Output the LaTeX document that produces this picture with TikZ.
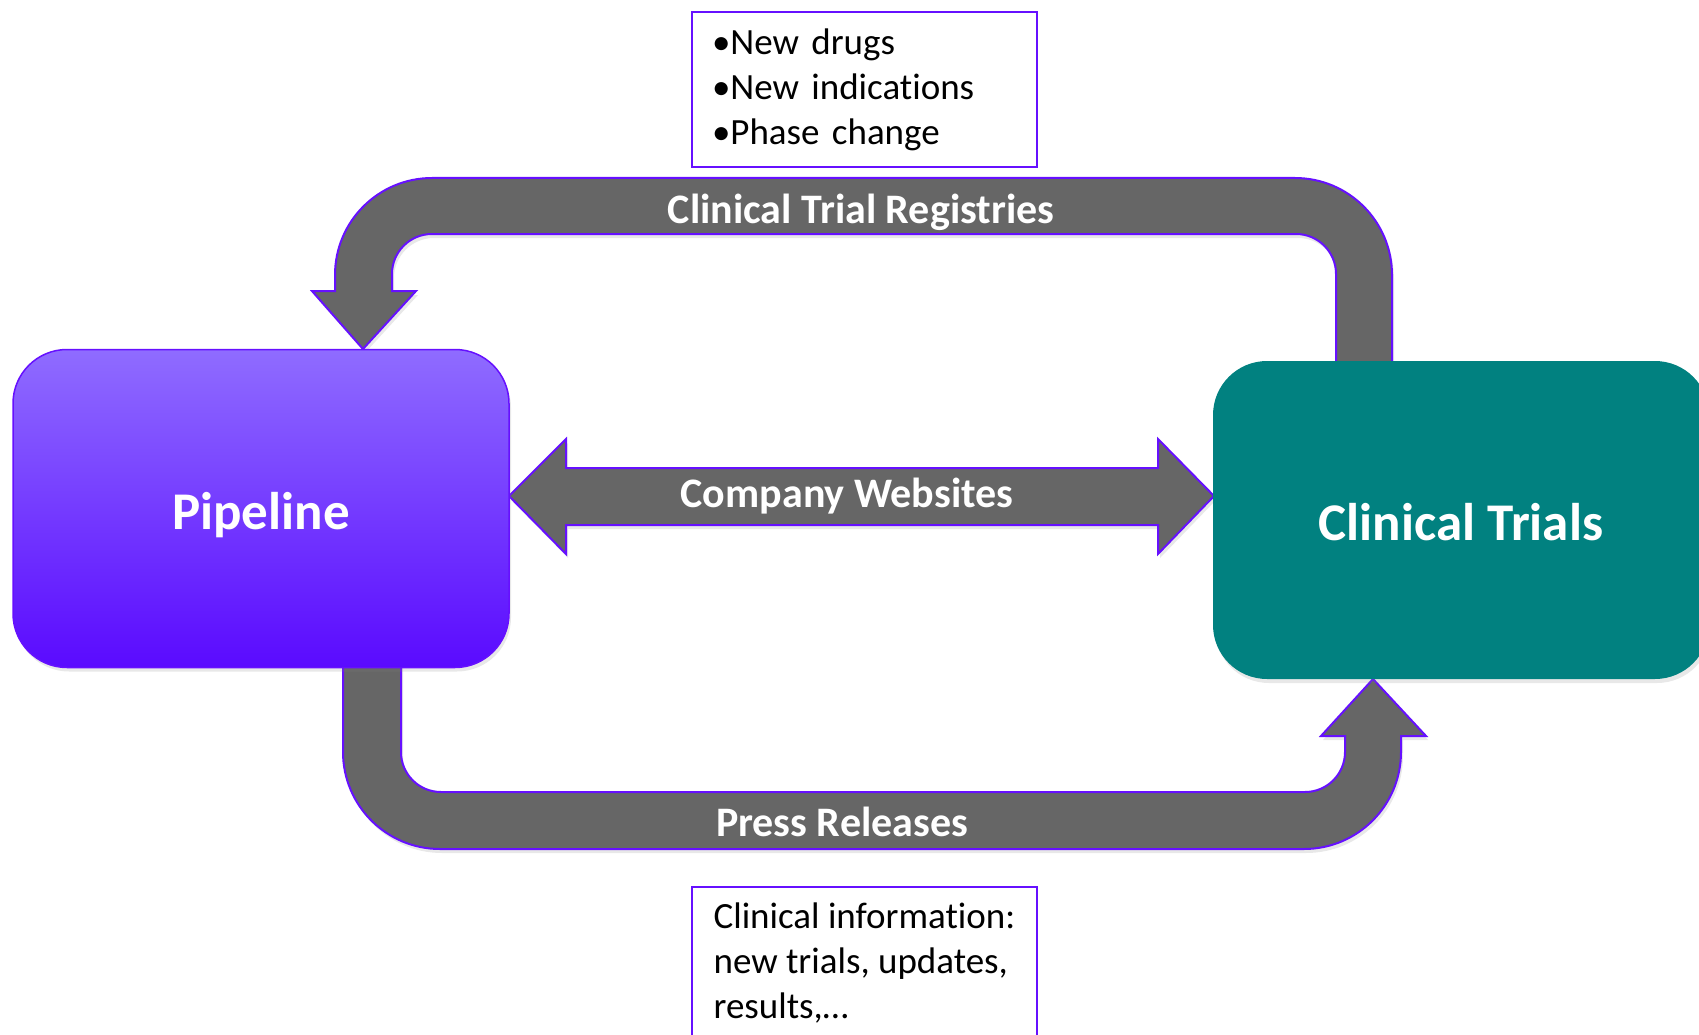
\documentclass[tikz,border=0pt]{standalone}
\usepackage{fontspec}
\setmainfont{Carlito}[Ligatures=NoCommon,RawFeature={-calt}]
\usepackage{xcolor}
\usetikzlibrary{shadows}
\definecolor{arrowgray}{RGB}{102,102,102}
\definecolor{edgeviolet}{RGB}{102,16,255}
\definecolor{pipetop}{RGB}{143,108,255}
\definecolor{pipebottom}{RGB}{90,10,255}
\definecolor{trialteal}{RGB}{1,129,128}

\begin{document}
\begin{tikzpicture}[x=1pt,y=-1pt,
  flow/.style={fill=arrowgray,draw=edgeviolet,line width=2pt,
    drop shadow={opacity=0.18,shadow xshift=2pt,shadow yshift=-4pt}},
  stage/.style={rounded corners=54pt,minimum width=496pt,minimum height=318pt,
    text=white,font=\fontsize{53}{64}\selectfont\bfseries,
    text height=41pt,text depth=0pt,
    drop shadow={opacity=0.18,shadow xshift=2pt,shadow yshift=-4pt}},
  infobox/.style={draw=edgeviolet,line width=2pt,fill=white,align=left,
    inner xsep=20pt,font=\fontsize{37}{45}\selectfont},
  flowlabel/.style={text=white,font=\fontsize{42}{50}\selectfont\bfseries,anchor=base}]
\useasboundingbox (0,0) rectangle (1699,1035);
\clip (0,0) rectangle (1699,1035);

\draw[flow] (1392,380) -- (1392,275) arc[start angle=0,end angle=90,radius=97pt]
  -- (432,178) arc[start angle=90,end angle=180,radius=97pt]
  -- (335,291) -- (312,291) -- (363,349) -- (416,291) -- (392,291)
  -- (392,274) arc[start angle=180,end angle=90,radius=40pt]
  -- (1296,234) arc[start angle=90,end angle=0,radius=40pt]
  -- (1336,380) -- cycle;
\draw[flow] (401,640) -- (401,752) arc[start angle=180,end angle=270,radius=40pt]
  -- (1305,792) arc[start angle=270,end angle=360,radius=40pt]
  -- (1345,736) -- (1321,736) -- (1373,679) -- (1426,736) -- (1401,736)
  -- (1401,752) arc[start angle=0,end angle=-90,radius=97pt]
  -- (440,849) arc[start angle=270,end angle=180,radius=97pt]
  -- (343,640) -- cycle;
\draw[flow] (509,496) -- (566,439) -- (566,468) -- (1158,468) -- (1158,439)
  -- (1214,496) -- (1158,554) -- (1158,525) -- (566,525) -- (566,554) -- cycle;

\node (pipe) [stage,top color=pipetop,bottom color=pipebottom,draw=edgeviolet,line width=1.5pt] at (261,508.5) {Pipeline};
\node (trials) [stage,fill=trialteal] at (1461,520) {Clinical Trials};

\node (regs) [flowlabel] at (861,223) {Clinical Trial Registries};
\node (web) [flowlabel] at (847,507) {Company Websites};
\node (press) [flowlabel] at (842,836) {Press Releases};

\node (news) [infobox,text width=305pt,anchor=north west,minimum width=345pt,minimum height=155pt] at (691,11)
  {•New drugs\\•New indications\\•Phase change};
\node (info) [infobox,anchor=north west,inner ysep=16pt,minimum width=345pt] at (691,886)
  {Clinical information:\\new trials, updates,\\results,…};
\end{tikzpicture}
\end{document}
